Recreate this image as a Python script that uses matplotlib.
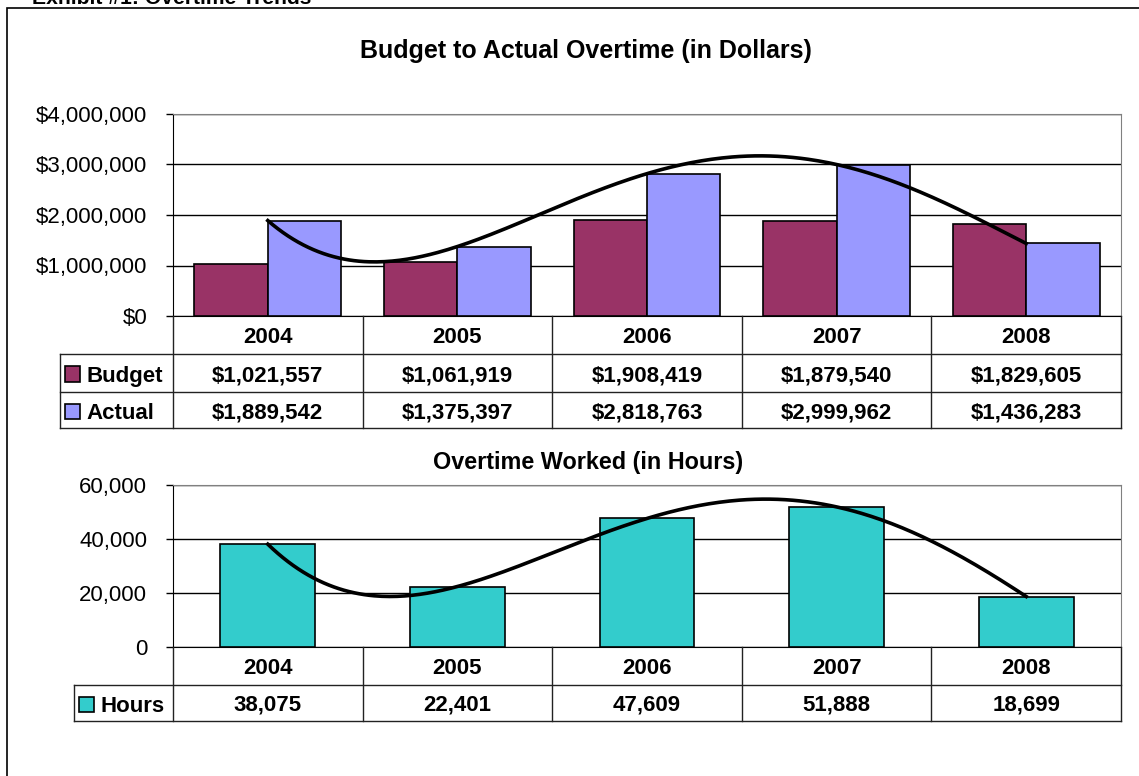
import numpy as np
import matplotlib.pyplot as plt
from matplotlib.lines import Line2D
from matplotlib.patches import Rectangle
from matplotlib.ticker import FuncFormatter

years = ['2004', '2005', '2006', '2007', '2008']
budget = [1021557, 1061919, 1908419, 1879540, 1829605]
actual = [1889542, 1375397, 2818763, 2999962, 1436283]
hours = [38075, 22401, 47609, 51888, 18699]

W, H = 1139, 776
plt.rcParams['font.family'] = ['Liberation Sans', 'DejaVu Sans']
fig = plt.figure(figsize=(W / 100, H / 100), dpi=100)

C_BUD = '#993366'
C_ACT = '#9999FF'
C_HRS = '#33CCCC'
GREY = '#808080'
FS = 16
DY = 2.5  # nudge table text down a bit

def fx(x):
    return x / W

def fy(y):
    return 1 - y / H

def hline(x0, x1, y, color='black', lw=1.0):
    fig.add_artist(Line2D([fx(x0), fx(x1)], [fy(y), fy(y)], color=color, lw=lw))

def vline(x, y0, y1, color='black', lw=1.0):
    fig.add_artist(Line2D([fx(x), fx(x)], [fy(y0), fy(y1)], color=color, lw=lw))

# outer frame + exhibit caption (cut off at the top like the source)
fig.add_artist(Rectangle((fx(7), fy(800)), fx(1150), 792 / H, fill=False,
                         edgecolor='black', lw=1.2))
fig.text(fx(32), fy(4), 'Exhibit #1: Overtime Trends', fontsize=15.2,
         fontweight='bold', va='baseline', ha='left')

L, R = 173, 1121
colw = (R - L) / 5


def make_axes(top, bottom, ymax, step, fmt):
    ax = fig.add_axes([fx(L), fy(bottom), fx(R) - fx(L), (bottom - top) / H])
    ax.set_xlim(0, 5)
    ax.set_ylim(0, ymax)
    ax.set_yticks(np.arange(0, ymax + 1, step))
    ax.yaxis.set_major_formatter(FuncFormatter(fmt))
    ax.set_xticks([])
    ax.grid(axis='y', color='black', lw=1.0)
    ax.set_axisbelow(True)
    ax.tick_params(axis='y', length=5, width=1, labelsize=FS, pad=13.5)
    for s in ['top', 'right']:
        ax.spines[s].set_color(GREY)
    ax.spines['left'].set_color('black')
    ax.spines['bottom'].set_color('black')
    return ax


def trend(ax, vals):
    # polynomial trendline, order 4
    xs = np.arange(1, 6)
    coef = np.polyfit(xs, vals, 4)
    xx = np.linspace(1, 5, 300)
    ax.plot(xx - 0.5, np.polyval(coef, xx), color='black', lw=2.6, zorder=5)


def table(y_top, row_ys, leg_left, rows):
    y_hdr_bot = row_ys[0]
    for i, yr in enumerate(years):
        fig.text(fx(L + colw * (i + 0.5)), fy((y_top + y_hdr_bot) / 2 + DY), yr,
                 fontsize=FS, fontweight='bold', ha='center', va='center')
    y_end = row_ys[-1]
    for i in range(6):
        vline(L + colw * i, y_top, y_end, color='#222222')
    vline(leg_left, row_ys[0], y_end, color='#222222')
    for y in row_ys:
        hline(leg_left, R, y, color='#222222')
    for k, (name, color, vals, fmt) in enumerate(rows):
        y0, y1 = row_ys[k], row_ys[k + 1]
        yc = (y0 + y1) / 2
        ks = 15
        fig.add_artist(Rectangle((fx(leg_left + 5), fy(yc + ks / 2 + 1)), ks / W, ks / H,
                                 facecolor=color, edgecolor='black', lw=1.2))
        fig.text(fx(leg_left + 5 + ks + 6), fy(yc + 1 + DY), name, fontsize=FS,
                 fontweight='bold', ha='left', va='center')
        for i, v in enumerate(vals):
            fig.text(fx(L + colw * (i + 0.5)), fy(yc + DY), fmt(v), fontsize=FS,
                     fontweight='bold', ha='center', va='center')


# ---- chart 1: dollars
ax1 = make_axes(114, 316, 4000000, 1000000, lambda v, p: '${:,.0f}'.format(v))
x = np.arange(5) + 0.5
bw = 0.387
ax1.bar(x - bw / 2, budget, bw, color=C_BUD, edgecolor='black', lw=1.2, zorder=3)
ax1.bar(x + bw / 2, actual, bw, color=C_ACT, edgecolor='black', lw=1.2, zorder=3)
trend(ax1, actual)
fig.text(fx(586), fy(51), 'Budget to Actual Overtime (in Dollars)', fontsize=18,
         fontweight='bold', ha='center', va='center')
table(316, [354, 392, 428], 60,
      [('Budget', C_BUD, budget, lambda v: '${:,}'.format(v)),
       ('Actual', C_ACT, actual, lambda v: '${:,}'.format(v))])

# ---- chart 2: hours
ax2 = make_axes(485, 647, 60000, 20000, lambda v, p: '{:,.0f}'.format(v))
ax2.bar(x, hours, 0.5, color=C_HRS, edgecolor='black', lw=1.2, zorder=3)
trend(ax2, hours)
fig.text(fx(588), fy(463), 'Overtime Worked (in Hours)', fontsize=16.8,
         fontweight='bold', ha='center', va='center')
table(647, [685, 721], 74,
      [('Hours', C_HRS, hours, lambda v: '{:,}'.format(v))])

fig.savefig('out.png', dpi=100)
